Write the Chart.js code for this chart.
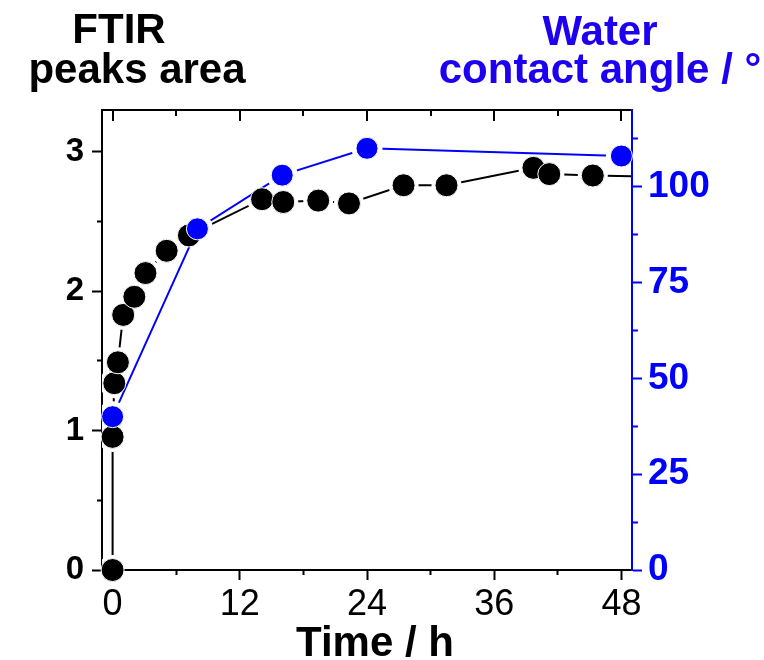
<!DOCTYPE html>
<html>
<head>
<meta charset="utf-8">
<script src="https://cdn.jsdelivr.net/npm/chart.js@4.4.1/dist/chart.umd.min.js"></script>
<style>
  html, body { margin: 0; padding: 0; background: #fff; }
  #wrap { position: relative; width: 764px; height: 660px; }
</style>
</head>
<body>
<div id="wrap"><canvas id="chartFtir"></canvas></div>
<script>
// FTIR: temps (h) i area de pics. L'ultim punt es la linia que continua fins a la vora
const tempsFtir = [0, 0, 0.16, 0.5, 1, 2.05, 3.1, 5.1, 7.2, 14.1, 16.1, 19.4, 22.3, 27.45, 31.5, 39.7, 41.2, 45.3, 49];
const areaFtir = [0, 0.955, 1.34, 1.49, 1.83, 1.96, 2.13, 2.29, 2.40, 2.66, 2.64, 2.65, 2.63, 2.76, 2.76, 2.885, 2.84, 2.83, 2.825];

// Angle de contacte amb aigua
const tempsAngle = [0, 8, 16, 24, 48];
const angleAigua = [40, 89, 103, 110, 108];

// Etiquetes dels eixos
const etiquetesX = [0, 12, 24, 36, 48];
const etiquetesEsq = [0, 1, 2, 3];
const etiquetesDreta = [0, 25, 50, 75, 100];
const titolEsq = ['FTIR', 'peaks area'];
const titolDreta = ['Water', 'contact angle / °'];
const titolX = 'Time / h';

const BLAU = '#0000ff';
const FONT = '"Liberation Sans", Arial, Helvetica, sans-serif';
const X_MIN = -1, X_MAX = 49;

const puntsFtir = tempsFtir.map((t, i) => ({ x: t, y: areaFtir[i] }));
const puntsAngle = tempsAngle.map((t, i) => ({ x: t, y: angleAigua[i] }));

// el punt de la vora no porta simbol
const radiFtir = r => ctx => (puntsFtir[ctx.dataIndex] && puntsFtir[ctx.dataIndex].x >= X_MAX ? 0 : r);

const esMajor = (ctx, llista) => ctx.tick && llista.includes(ctx.tick.value);

// Titols sobre els eixos
const textos = {
  id: 'textos',
  afterDraw(chart) {
    const c = chart.ctx;
    c.save();
    c.textAlign = 'center';
    c.textBaseline = 'alphabetic';
    c.font = 'bold 42px ' + FONT;
    c.fillStyle = '#000';
    c.fillText(titolEsq[0], 119, 43);
    c.fillText(titolEsq[1], 137, 83);
    c.fillStyle = '#1e00f0';
    c.fillText(titolDreta[0], 600, 45);
    c.fillText(titolDreta[1], 600, 83);
    c.fillStyle = '#000';
    c.fillText(titolX, 375, 656);
    c.restore();
  }
};

const clipLinia = { left: 0, top: 0, right: -1, bottom: -1 };

new Chart(document.getElementById('chartFtir'), {
  type: 'line',
  data: {
    datasets: [
      {
        // linia FTIR amb buit al voltant dels simbols
        data: puntsFtir, xAxisID: 'x', yAxisID: 'y', order: 4,
        borderColor: '#000', borderWidth: 2, tension: 0,
        pointRadius: radiFtir(15), pointBackgroundColor: '#fff', pointBorderWidth: 0,
        clip: clipLinia
      },
      {
        data: puntsAngle, xAxisID: 'x', yAxisID: 'y1', order: 3,
        borderColor: BLAU, borderWidth: 2, tension: 0,
        pointRadius: 15.5, pointBackgroundColor: '#fff', pointBorderWidth: 0,
        clip: clipLinia
      },
      {
        data: puntsFtir, xAxisID: 'x', yAxisID: 'y', order: 2, showLine: false,
        pointRadius: radiFtir(11.5), pointBackgroundColor: '#000',
        pointBorderColor: '#fff', pointBorderWidth: 1, clip: false
      },
      {
        data: puntsAngle, xAxisID: 'x', yAxisID: 'y1', order: 1, showLine: false,
        pointRadius: 11, pointBackgroundColor: BLAU,
        pointBorderColor: '#fff', pointBorderWidth: 1, clip: false
      }
    ]
  },
  options: {
    responsive: true,
    maintainAspectRatio: false,
    devicePixelRatio: 1,
    animation: false,
    layout: { padding: 0 },
    plugins: { legend: { display: false }, tooltip: { enabled: false } },
    scales: {
      x: {
        type: 'linear', position: 'bottom', min: X_MIN, max: X_MAX,
        ticks: {
          stepSize: 6, includeBounds: false, autoSkip: false, maxRotation: 0,
          padding: 3, color: '#000', font: { family: FONT, size: 36 },
          callback: v => (etiquetesX.includes(v) ? v : '')
        },
        grid: {
          drawOnChartArea: false, tickLength: 10, tickWidth: 2, tickColor: '#000',
          tickBorderDash: ctx => (esMajor(ctx, etiquetesX) ? [] : [4, 20])
        },
        border: { color: '#000', width: 2 },
        afterFit: s => { s.height = 90; }
      },
      x2: {
        type: 'linear', position: 'top', min: X_MIN, max: X_MAX,
        ticks: { display: false, stepSize: 6, includeBounds: false, autoSkip: false },
        grid: { drawOnChartArea: true, drawTicks: false, color: '#000', lineWidth: 2 },
        border: {
          color: '#000', width: 2,
          dash: ctx => (ctx.type !== 'tick' ? [] : (esMajor(ctx, etiquetesX) ? [10, 1000] : [5, 1000]))
        },
        afterFit: s => { s.height = 110; }
      },
      y: {
        type: 'linear', position: 'left', min: 0, max: 3.3,
        ticks: {
          stepSize: 0.5, includeBounds: false, autoSkip: false, padding: 8,
          color: '#000', font: { family: FONT, size: 33, weight: 'bold' },
          callback: v => (etiquetesEsq.includes(v) ? v : '')
        },
        grid: {
          drawOnChartArea: false, tickLength: 10, tickWidth: 2, tickColor: '#000',
          tickBorderDash: ctx => (esMajor(ctx, etiquetesEsq) ? [] : [0, 5, 20])
        },
        border: { color: '#000', width: 2 },
        afterFit: s => { s.width = 102; }
      },
      y1: {
        type: 'linear', position: 'right', min: 0, max: 120,
        ticks: {
          stepSize: 12.5, includeBounds: false, autoSkip: false, padding: 6,
          color: BLAU, font: { family: FONT, size: 37, weight: 'bold' },
          callback: v => (etiquetesDreta.includes(v) ? v : '')
        },
        grid: {
          drawOnChartArea: false, tickLength: 10, tickWidth: 2, tickColor: BLAU,
          tickBorderDash: ctx => (esMajor(ctx, etiquetesDreta) ? [] : [5, 20])
        },
        border: { color: BLAU, width: 2 },
        afterFit: s => { s.width = 132; }
      }
    }
  },
  plugins: [textos]
});
</script>
</body>
</html>
